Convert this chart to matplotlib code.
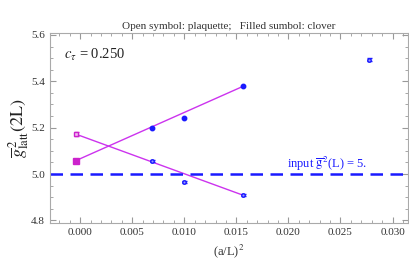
import numpy as np
import matplotlib
matplotlib.use("Agg")
import matplotlib.pyplot as plt
from matplotlib.ticker import MultipleLocator

plt.rcParams['font.family'] = ['Liberation Serif', 'DejaVu Serif']
plt.rcParams['mathtext.fontset'] = 'stix'

# (a/L)^2 for L/a = 12, 10, 8, 6
x_lat = [1/144, 1/100, 1/64]
x_far = [1/36]

# filled symbols: clover
clover_y = [5.198, 5.241, 5.378]
clover_far_y = [5.493]
clover_far_err = [0.006]

# open symbols: plaquette
plaq_y = [5.056, 4.965, 4.909]
plaq_err = [0.004, 0.004, 0.004]

# continuum extrapolations (drawn slightly left of zero)
x_cont = -0.0004
clover_cont = 5.058
clover_cont_err = 0.006
plaq_cont = 5.172
plaq_cont_err = 0.008

g2_input = 5.0

fig = plt.figure(figsize=(4.09, 2.78), dpi=100)
ax = fig.add_axes([0.122, 0.198, 0.876, 0.683])

blue = '#1a1aff'
violet = '#cc33ee'

# fit lines from extrapolated value to last lattice point
ax.plot([x_cont, x_lat[-1]], [clover_cont, clover_y[-1]], color=violet, lw=1.0)
ax.plot([x_cont, x_lat[-1]], [plaq_cont, plaq_y[-1]], color=violet, lw=1.0)

ax.axhline(g2_input, color=blue, lw=1.8, ls=(0, (5, 3)))

ax.plot(x_lat, clover_y, 'o', color=blue, ms=3.2, mec=blue)
ax.errorbar(x_far, clover_far_y, yerr=clover_far_err, fmt='o', color=blue,
            ms=2.5, mfc='#9999ff', mec=blue, capsize=1.8, elinewidth=0.8)
ax.errorbar(x_lat, plaq_y, yerr=plaq_err, fmt='o', color=blue, ms=2.5,
            mfc='#9999ff', mec=blue, capsize=1.8, elinewidth=0.8)

ax.errorbar([x_cont], [clover_cont], yerr=[clover_cont_err], fmt='s',
            color='#cc22cc', ms=4, capsize=1.8, elinewidth=0.8)
ax.errorbar([x_cont], [plaq_cont], yerr=[plaq_cont_err], fmt='s',
            color='#cc22cc', mfc='#f0c0f0', ms=3.5, capsize=1.8, elinewidth=0.8)

ax.set_xlim(-0.0029, 0.0315)
ax.set_ylim(4.789, 5.608)
ax.xaxis.set_major_locator(MultipleLocator(0.005))
ax.xaxis.set_minor_locator(MultipleLocator(0.001))
ax.yaxis.set_major_locator(MultipleLocator(0.2))
ax.yaxis.set_minor_locator(MultipleLocator(0.05))
ax.xaxis.set_major_formatter(plt.FuncFormatter(lambda v, p: f"{v:.3f}"))
ax.yaxis.set_major_formatter(plt.FuncFormatter(lambda v, p: f"{v:.1f}"))
ax.tick_params(which='both', direction='in', top=True, right=True,
               color='#999999', labelsize=8, labelcolor='#333333')
ax.tick_params(which='major', length=4)
ax.tick_params(which='minor', length=2)
for s in ax.spines.values():
    s.set_color('#aaaaaa')

ax.set_title("Open symbol: plaquette;   Filled sumbol: clover", fontsize=8,
             color='#333333', pad=3)
ax.set_xlabel(r"(a/L)$^2$", fontsize=9, color='#333333')
ax.set_ylabel(r"$\overline{g}^{\,2}_{\rm latt}(2\mathrm{L})$", fontsize=13,
              color='#222222', labelpad=0)

ax.text(-0.0015, 5.513, r"$c_\tau$ = 0.250", fontsize=10.5, va='center',
        color='#222222')
ax.text(0.0199, 5.043, r"input $\overline{\rm g}^2$(L) = 5.", fontsize=9,
        va='center', color=blue)

fig.savefig("out.png", dpi=100)
